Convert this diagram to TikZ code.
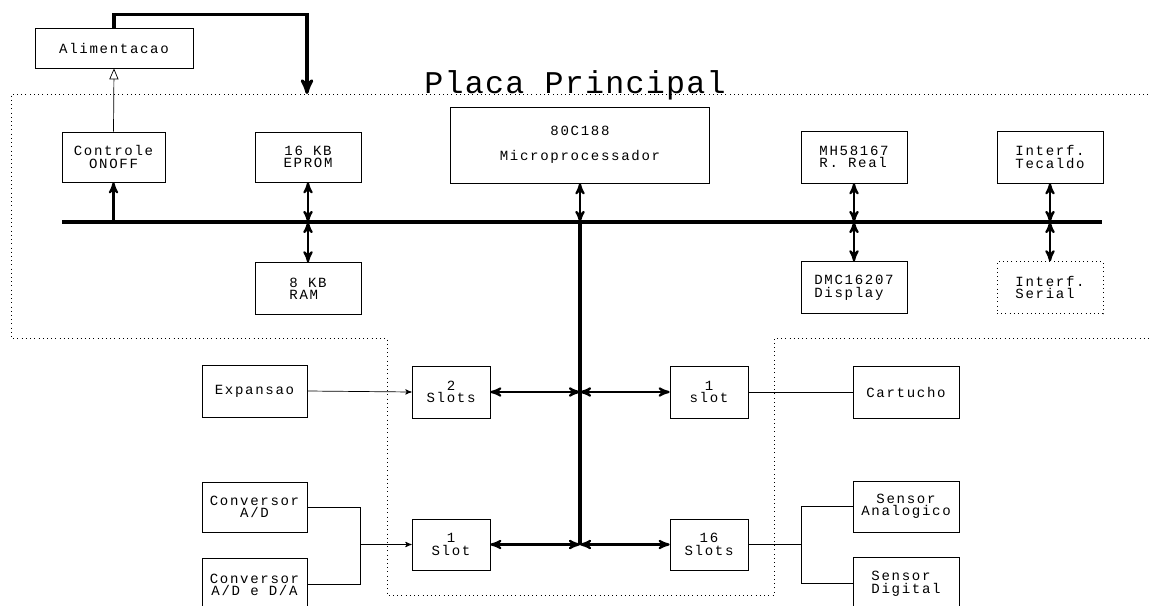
\documentclass[tikz,border=0pt]{standalone}
\usepackage{fontspec}
\newfontfamily\matriz[LetterSpace=12]{Liberation Mono}
\newfontfamily\titulo[LetterSpace=4]{Liberation Mono}
\usepackage{tikz}
\usetikzlibrary{shapes,arrows,positioning,calc}
\tikzstyle{bloco} = [rectangle, minimum width=2.12cm, minimum height=1.04cm, inner sep=1pt, text centered, align=center, draw=black, font=\matriz\fontsize{8}{7}\selectfont]
\tikzstyle{slot} = [bloco, minimum width=1.56cm]
\tikzstyle{placa} = [dotted, thin]
\tikzstyle{barra} = [line width=1.8pt]
\tikzstyle{arrow} = [line width=1.2pt,<->,>=stealth']
\tikzstyle{fino} = [thin,->,>=stealth']

\begin{document}
\begin{tikzpicture}[x=0.02cm, y=-0.02cm, >=stealth']
\useasboundingbox (0,0) rectangle (1149,605);

% Contorno da placa principal
\draw [placa] (1152,94) -- (11,94) -- (11,338) -- (387,338) -- (387,595) -- (774,595) -- (774,338) -- (1152,338);
\node (titulo) [anchor=base, font=\titulo\fontsize{18}{18}\selectfont] at (575,93) {Placa Principal};

% Alimentacao e controle
\node (alim) [bloco, minimum width=3.16cm, minimum height=0.8cm] at (114,48) {Alimentacao};
\node (ctrl) [bloco, minimum width=2.06cm, minimum height=1cm] at (113.5,157) {Controle\\ONOFF};

% Memorias
\node (eprom) [bloco, minimum height=1cm] at (308,157) {16 KB\\EPROM};
\node (ram) [bloco, align=left, below=1.6cm of eprom] {8 KB\\RAM};

% Microprocessador
\node (micro) [bloco, minimum width=5.18cm, minimum height=1.52cm] at (580,145) {80C188\\[7pt]Microprocessador};

% Relogio, display e interfaces
\node (relogio) [bloco, align=left] at (854,157) {MH58167\\R. Real};
\node (display) [bloco, align=left, below=1.56cm of relogio] {DMC16207\\Display};
\node (teclado) [bloco] at (1050,157) {Interf.\\Tecaldo};
\node (serial) [bloco, dotted, align=left, below=1.56cm of teclado] {Interf.\\Serial};

% Barramento
\coordinate (busL) at (62,222);
\coordinate (busR) at (1102,222);
\draw [barra] (busL) -- (busR);

% Slots
\node (slotA) [slot] at (451,392) {2\\Slots};
\node (slotB) [slot] at (709,392) {1\\slot};
\node (slotC) [slot, minimum height=1.02cm] at (451,544.5) {1\\Slot};
\node (slotD) [slot, minimum height=1.02cm] at (709,544.5) {16\\Slots};

% Perifericos externos
\node (exp) [bloco, minimum width=2.1cm] at (254.5,391) {Expansao};
\node (cart) [bloco] at (906,392) {Cartucho};
\node (convAD) [bloco, minimum width=2.1cm, minimum height=1cm] at (254.5,507) {Conversor\\A/D};
\node (convDA) [bloco, minimum width=2.1cm, below=0.52cm of convAD] {Conversor\\A/D e D/A};
\node (sensA) [bloco, minimum height=1.02cm] at (906,506.5) {Sensor\\Analogico};
\node (sensD) [bloco, align=left, below=0.5cm of sensA] {Sensor\\Digital};

% Ligacoes da alimentacao
\draw [thin,-open triangle 45] (ctrl.north) -- (alim.south);
\draw [barra,->] (alim.north) -- ++(0,-13) -| (307,94);

% Ligacoes ao barramento
\draw [line width=1.2pt,->] (ctrl.south |- busL) -- (ctrl.south);
\draw [arrow] (eprom.south) -- (eprom.south |- busL);
\draw [arrow] (ram.north |- busL) -- (ram.north);
\draw [arrow] (micro.south) -- (micro.south |- busL);
\draw [arrow] (relogio.south) -- (relogio.south |- busL);
\draw [arrow] (display.north |- busL) -- (display.north);
\draw [arrow] (teclado.south) -- (teclado.south |- busL);
\draw [arrow] (serial.north |- busL) -- (serial.north);

% Linha dos slots
\coordinate (jA) at (580,392);
\coordinate (jB) at (580,544.5);
\draw [barra] (micro.south |- busL) -- (jB);
\draw [arrow] (slotA.east) -- (jA);
\draw [arrow] (jA) -- (slotB.west);
\draw [arrow] (slotC.east) -- (jB);
\draw [arrow] (jB) -- (slotD.west);

% Ligacoes externas
\coordinate (jC) at (360,544.5);
\coordinate (jD) at (801,544.5);
\draw [fino] (exp.east) -- (slotA.west);
\draw (slotB.east) -- (cart.west);
\draw (convAD.east) -| (jC);
\draw (convDA.east) -| (jC);
\draw [fino] (jC) -- (slotC.west);
\draw (slotD.east) -- (jD);
\draw (jD) |- (sensA.west);
\draw (jD) |- (sensD.west);

\end{tikzpicture}
\end{document}
